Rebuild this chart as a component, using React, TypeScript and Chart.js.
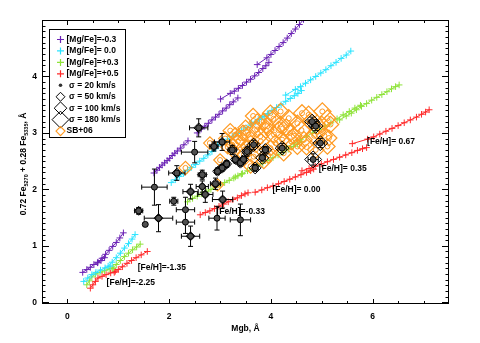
import React, { useEffect, useRef } from 'react';
import { Chart, registerables } from 'chart.js';
Chart.register(...registerables);

// ---------- axis ticks ----------
const X_TICKS = [0, 2, 4, 6];
const Y_TICKS = [0, 1, 2, 3, 4];

// ---------- model grids: [Mgb, Fe-combination] per [Fe/H] line ----------
// [Mg/Fe] = -0.3 (purple)
const P_M225 = [[0.30,0.53],[0.38,0.58],[0.45,0.62],[0.52,0.67],[0.59,0.70],[0.66,0.74],[0.73,0.79]];
const P_M135 = [[0.60,0.71],[0.68,0.78],[0.75,0.85],[0.82,0.92],[0.89,0.99],[0.96,1.06],[1.03,1.14],[1.10,1.23]];
const P_M033 = [[1.70,2.29],[1.76,2.34],[1.81,2.39],[1.86,2.43],[1.91,2.47],[1.96,2.51],[2.01,2.55],[2.06,2.60],[2.11,2.64],[2.16,2.68],[2.22,2.73],[2.29,2.79],[2.37,2.86]];
const P_P000 = [[2.55,3.00],[2.63,3.07],[2.70,3.12],[2.77,3.17],[2.84,3.23],[2.91,3.28],[2.98,3.33],[3.05,3.39],[3.12,3.44],[3.19,3.50],[3.26,3.55],[3.35,3.62]];
const P_P035 = [[3.01,3.60],[3.20,3.70],[3.28,3.74],[3.36,3.79],[3.44,3.84],[3.52,3.90],[3.60,3.95],[3.68,4.01],[3.76,4.07],[3.84,4.14],[3.90,4.19],[3.96,4.25]];
const P_P067 = [[3.73,4.21],[3.92,4.33],[4.00,4.39],[4.08,4.46],[4.16,4.53],[4.24,4.60],[4.32,4.68],[4.40,4.76],[4.48,4.84],[4.56,4.92],[4.64,5.01],[4.72,5.10]];
// [Mg/Fe] = 0.0 (cyan)
const C_M225 = [[0.32,0.37],[0.40,0.43],[0.48,0.49],[0.56,0.53],[0.65,0.57],[0.74,0.61],[0.84,0.64]];
const C_M135 = [[0.80,0.64],[0.88,0.71],[0.96,0.79],[1.04,0.87],[1.12,0.96],[1.20,1.04],[1.27,1.12],[1.33,1.20]];
const C_M033 = [[2.04,2.12],[2.12,2.17],[2.20,2.23],[2.28,2.28],[2.36,2.34],[2.44,2.39],[2.52,2.44],[2.60,2.50],[2.68,2.55],[2.76,2.61],[2.84,2.67],[2.91,2.72]];
const C_P000 = [[2.95,2.78],[3.06,2.84],[3.15,2.89],[3.24,2.94],[3.33,2.99],[3.42,3.04],[3.51,3.09],[3.60,3.14],[3.69,3.19],[3.78,3.24],[3.87,3.29],[3.95,3.34]];
const C_P035 = [[3.62,3.17],[3.75,3.24],[3.84,3.29],[3.93,3.34],[4.02,3.40],[4.11,3.45],[4.20,3.50],[4.29,3.56],[4.38,3.61],[4.46,3.66],[4.53,3.70],[4.60,3.75]];
const C_P067 = [[4.29,3.67],[4.48,3.77],[4.58,3.82],[4.68,3.88],[4.78,3.94],[4.88,4.00],[4.98,4.06],[5.08,4.12],[5.18,4.19],[5.28,4.25],[5.38,4.32],[5.48,4.38],[5.57,4.45]];
// [Mg/Fe] = +0.3 (green)
const G_M225 = [[0.38,0.31],[0.43,0.38],[0.48,0.45],[0.55,0.50],[0.64,0.53],[0.73,0.56],[0.82,0.59],[0.90,0.61]];
const G_M135 = [[0.88,0.60],[0.96,0.67],[1.04,0.74],[1.12,0.81],[1.20,0.87],[1.28,0.93],[1.36,0.98],[1.43,1.03]];
const G_M033 = [[2.36,1.78],[2.46,1.84],[2.55,1.88],[2.64,1.92],[2.73,1.96],[2.82,2.00],[2.91,2.04],[3.00,2.08],[3.09,2.12],[3.18,2.16],[3.27,2.20],[3.35,2.24],[3.42,2.27]];
const G_P000 = [[3.30,2.22],[3.44,2.28],[3.54,2.33],[3.64,2.37],[3.74,2.42],[3.84,2.46],[3.94,2.51],[4.04,2.56],[4.14,2.61],[4.24,2.66],[4.34,2.71],[4.44,2.76],[4.52,2.80],[4.60,2.84]];
const G_P035 = [[4.30,2.75],[4.46,2.82],[4.58,2.88],[4.70,2.94],[4.82,3.00],[4.94,3.06],[5.06,3.12],[5.18,3.18],[5.30,3.25],[5.42,3.32],[5.54,3.38],[5.65,3.44],[5.76,3.49]];
const G_P067 = [[5.35,3.23],[5.48,3.30],[5.58,3.35],[5.68,3.41],[5.78,3.47],[5.88,3.52],[5.98,3.58],[6.08,3.63],[6.18,3.68],[6.28,3.73],[6.37,3.78],[6.45,3.82],[6.52,3.85]];
// [Mg/Fe] = +0.5 (red)
const R_M225 = [[0.45,0.25],[0.50,0.31],[0.55,0.37],[0.60,0.43],[0.68,0.46],[0.76,0.49],[0.85,0.52],[0.94,0.55]];
const R_M135 = [[0.92,0.53],[1.00,0.58],[1.08,0.63],[1.17,0.69],[1.26,0.74],[1.35,0.79],[1.45,0.84],[1.57,0.90]];
const R_M033 = [[2.61,1.55],[2.71,1.59],[2.80,1.62],[2.89,1.66],[2.98,1.70],[3.07,1.74],[3.16,1.78],[3.25,1.82],[3.34,1.85],[3.42,1.89],[3.49,1.92],[3.55,1.94]];
const R_P000 = [[3.69,1.95],[3.82,1.99],[3.93,2.03],[4.04,2.06],[4.15,2.10],[4.26,2.14],[4.37,2.18],[4.48,2.22],[4.59,2.26],[4.70,2.30],[4.78,2.33],[4.84,2.36]];
const R_P035 = [[4.61,2.33],[4.75,2.37],[4.87,2.41],[4.99,2.45],[5.11,2.49],[5.23,2.53],[5.35,2.57],[5.47,2.61],[5.59,2.65],[5.70,2.69],[5.80,2.72],[5.88,2.74]];
const R_P067 = [[5.60,2.81],[5.90,2.89],[6.02,2.93],[6.14,2.98],[6.26,3.03],[6.38,3.08],[6.50,3.13],[6.62,3.18],[6.74,3.23],[6.86,3.28],[6.96,3.33],[7.04,3.37],[7.11,3.41]];

const MGFE_LABELS = ['[Mg/Fe]=-0.3', '[Mg/Fe]= 0.0', '[Mg/Fe]=+0.3', '[Mg/Fe]=+0.5'];
const MODEL_GROUPS = [
  [P_M225, P_M135, P_M033, P_P000, P_P035, P_P067],
  [C_M225, C_M135, C_M033, C_P000, C_P035, C_P067],
  [G_M225, G_M135, G_M033, G_P000, G_P035, G_P067],
  [R_M225, R_M135, R_M033, R_P000, R_P035, R_P067],
];

// ---------- [Fe/H] annotations ----------
const FEH_LABELS = ['[Fe/H]= 0.67', '[Fe/H]= 0.35', '[Fe/H]= 0.00', '[Fe/H]=-0.33', '[Fe/H]=-1.35', '[Fe/H]=-2.25'];
const FEH_X = [5.89, 4.94, 4.03, 2.93, 1.38, 0.77];
const FEH_Y = [2.85, 2.37, 1.99, 1.61, 0.62, 0.34];

// ---------- observed objects (black, with error bars) ----------
const OBJ_X =  [2.58,2.50,2.15,1.71,1.40,1.53,1.79,2.09,2.32,2.32,2.42,2.42,2.65,2.71,2.94,3.05,3.40,2.91,2.65,2.88,3.04,2.95,3.13,3.24,3.30,3.40,3.46,3.53,3.69,3.66,3.83,3.89,4.22,4.81,4.88,4.97,4.83,3.04];
const OBJ_Y =  [3.09,2.66,2.29,2.04,1.62,1.38,1.49,1.79,1.64,1.42,1.17,1.96,2.05,1.91,1.49,1.82,1.46,2.10,2.26,2.76,2.38,2.32,2.45,2.70,2.53,2.47,2.53,2.67,2.38,2.79,2.56,2.70,2.73,3.20,3.12,2.82,2.53,2.84];
const OBJ_EX = [0.18,0.26,0.16,0.25,0.08,0.03,0.28,0.08,0.18,0.18,0.18,0.15,0.12,0.15,0.16,0.20,0.20,0.10,0.08,0.08,0.06,0.06,0.06,0.08,0.06,0.06,0.06,0.08,0.06,0.08,0.06,0.06,0.08,0.08,0.08,0.08,0.10,0.15];
const OBJ_EY = [0.16,0.19,0.13,0.32,0.06,0.03,0.24,0.07,0.22,0.20,0.18,0.13,0.10,0.14,0.21,0.15,0.28,0.10,0.08,0.08,0.06,0.06,0.06,0.08,0.06,0.06,0.06,0.08,0.06,0.08,0.06,0.06,0.08,0.08,0.08,0.08,0.10,0.15];
const OBJ_SIGMA = [60,30,60,25,50,30,50,30,30,30,50,50,40,50,30,50,30,60,60,60,70,60,60,70,60,70,60,80,90,110,110,100,120,140,130,140,180,50];

// ---------- SB+06 sample (orange) ----------
const SB_X = [2.32,2.80,2.95,3.00,3.20,3.30,3.24,3.40,3.50,3.56,3.60,3.60,3.66,3.73,3.73,3.79,3.86,3.86,3.93,3.99,3.99,4.06,4.09,4.19,4.19,4.22,4.25,4.35,4.38,4.52,4.52,4.61,4.65,4.74,4.78,4.88,4.91,5.01,5.11,5.17,5.14,5.11,3.27,3.47,
  3.10,3.15,3.35,3.45,3.55,3.70,3.80,3.95,4.05,4.15,4.30,4.45,4.60,4.70,4.85,5.00,5.05,4.40,3.90,3.65];
const SB_Y = [2.38,2.82,2.08,2.52,3.04,2.97,2.79,2.91,3.09,2.97,2.82,2.41,2.58,3.06,3.20,2.94,3.20,2.50,3.12,3.35,2.73,2.97,2.82,3.38,3.15,2.88,2.64,3.26,3.00,3.17,2.76,3.35,2.88,3.32,3.20,2.70,3.03,3.38,3.26,3.15,2.91,2.76,2.67,2.62,
  2.90,2.75,2.85,3.00,2.75,2.70,2.85,2.60,3.25,3.05,3.10,2.95,3.05,2.75,2.95,3.15,2.95,2.85,3.05,3.30];
const SB_SIGMA = [110,100,90,100,130,120,110,140,150,160,150,120,140,170,150,160,180,140,170,160,150,180,170,170,180,160,150,190,180,170,160,180,170,190,180,170,180,190,180,170,160,150,120,130,
  110,120,130,150,140,160,170,150,180,190,180,170,190,160,180,170,160,180,170,150];

const SIGMA_LEGEND = [20, 50, 100, 180];
const SIGMA_LABELS = ['\u03c3 = 20 km/s', '\u03c3 = 50 km/s', '\u03c3 = 100 km/s', '\u03c3 = 180 km/s'];
const SB_LABEL = 'SB+06';

// ---------- styles ----------
const COLORS = ['#6B22B5', '#2BE4FF', '#8FE33A', '#FF2A2A'];
const ORANGE = '#FF9A22';
const FONT = "'Liberation Sans', Arial, Helvetica, sans-serif";
const TXT = `bold 8.5px ${FONT}`;
const sigmaRadius = (s: number) => 0.63 * Math.sqrt(s);

function drawCross(ctx: CanvasRenderingContext2D, x: number, y: number, r: number) {
  ctx.beginPath();
  ctx.moveTo(x - r, y); ctx.lineTo(x + r, y);
  ctx.moveTo(x, y - r); ctx.lineTo(x, y + r);
  ctx.stroke();
}
function drawDiamond(ctx: CanvasRenderingContext2D, x: number, y: number, r: number) {
  ctx.beginPath();
  ctx.moveTo(x - r, y); ctx.lineTo(x, y - r); ctx.lineTo(x + r, y); ctx.lineTo(x, y + r);
  ctx.closePath();
  ctx.stroke();
}

const decorPlugin = {
  id: 'decor',
  beforeDatasetDraw(chart: any, args: any) {
    const ds = chart.data.datasets[args.index];
    if (ds.label !== 'objDiamonds') return;
    const { ctx, chartArea } = chart;
    const xs = chart.scales.x, ys = chart.scales.y;
    ctx.save();
    ctx.beginPath();
    ctx.rect(chartArea.left, chartArea.top, chartArea.right - chartArea.left, chartArea.bottom - chartArea.top);
    ctx.clip();
    ctx.strokeStyle = '#000';
    ctx.lineWidth = 1;
    const cap = 2.5;
    for (let i = 0; i < OBJ_X.length; i++) {
      const x0 = xs.getPixelForValue(OBJ_X[i] - OBJ_EX[i]);
      const x1 = xs.getPixelForValue(OBJ_X[i] + OBJ_EX[i]);
      const y0 = ys.getPixelForValue(OBJ_Y[i] - OBJ_EY[i]);
      const y1 = ys.getPixelForValue(OBJ_Y[i] + OBJ_EY[i]);
      const cx = xs.getPixelForValue(OBJ_X[i]);
      const cy = ys.getPixelForValue(OBJ_Y[i]);
      ctx.beginPath();
      ctx.moveTo(x0, cy); ctx.lineTo(x1, cy);
      ctx.moveTo(x0, cy - cap); ctx.lineTo(x0, cy + cap);
      ctx.moveTo(x1, cy - cap); ctx.lineTo(x1, cy + cap);
      ctx.moveTo(cx, y0); ctx.lineTo(cx, y1);
      ctx.moveTo(cx - cap, y0); ctx.lineTo(cx + cap, y0);
      ctx.moveTo(cx - cap, y1); ctx.lineTo(cx + cap, y1);
      ctx.stroke();
    }
    ctx.restore();
  },
  afterDatasetsDraw(chart: any) {
    const { ctx } = chart;
    const xs = chart.scales.x, ys = chart.scales.y;
    ctx.save();
    ctx.fillStyle = '#000';
    ctx.font = TXT;
    ctx.textAlign = 'left';
    ctx.textBaseline = 'middle';
    FEH_LABELS.forEach((t, i) => {
      ctx.fillText(t, xs.getPixelForValue(FEH_X[i]), ys.getPixelForValue(FEH_Y[i]));
    });
    ctx.restore();
  },
  afterDraw(chart: any) {
    const { ctx, chartArea } = chart;
    const { left, right, top, bottom } = chartArea;
    const xs = chart.scales.x, ys = chart.scales.y;
    ctx.save();
    ctx.strokeStyle = '#000';
    ctx.lineWidth = 1;
    ctx.strokeRect(left + 0.5, top + 0.5, right - left - 1, bottom - top - 1);
    // ticks on all sides, pointing inward
    ctx.beginPath();
    for (let k = 0; k <= 15; k++) {
      const v = -0.5 + k * 0.5;
      if (v <= xs.min || v >= xs.max) continue;
      const px = Math.round(xs.getPixelForValue(v)) + 0.5;
      const major = Math.abs(v % 2) < 1e-6;
      const len = major ? 5 : 3;
      ctx.moveTo(px, bottom); ctx.lineTo(px, bottom - len);
      ctx.moveTo(px, top); ctx.lineTo(px, top + len);
    }
    for (let k = 0; k <= 50; k++) {
      const v = k / 10;
      if (v <= ys.min || v >= ys.max) continue;
      const py = Math.round(ys.getPixelForValue(v)) + 0.5;
      const major = k % 10 === 0;
      const len = major ? 7 : 3.5;
      ctx.moveTo(left, py); ctx.lineTo(left + len, py);
      ctx.moveTo(right, py); ctx.lineTo(right - len, py);
    }
    ctx.stroke();

    // legend
    const bx = 49.5, by = 29.5, bw = 76, bh = 108;
    ctx.fillStyle = '#fff';
    ctx.fillRect(bx, by, bw, bh);
    ctx.strokeRect(bx, by, bw, bh);
    const mx = 60.5, step = 11.45, y0 = 39.5;
    ctx.font = TXT;
    ctx.textAlign = 'left';
    ctx.textBaseline = 'middle';
    MGFE_LABELS.forEach((t, i) => {
      const yy = y0 + i * step;
      ctx.strokeStyle = COLORS[i];
      ctx.lineWidth = 1.2;
      drawCross(ctx, mx, yy, 3.5);
      ctx.fillStyle = '#000';
      ctx.fillText(t, 66.5, yy);
    });
    SIGMA_LEGEND.forEach((s, i) => {
      const yy = y0 + (4 + i) * step;
      ctx.strokeStyle = '#000';
      ctx.lineWidth = 1;
      if (i === 0) {
        ctx.fillStyle = '#333';
        ctx.beginPath(); ctx.arc(mx, yy, 1.8, 0, Math.PI * 2); ctx.fill();
      } else {
        drawDiamond(ctx, mx, yy, sigmaRadius(s));
      }
      ctx.fillStyle = '#000';
      ctx.fillText(SIGMA_LABELS[i], 69, yy);
    });
    {
      const yy = y0 + 8 * step;
      ctx.strokeStyle = ORANGE;
      ctx.lineWidth = 1.2;
      drawDiamond(ctx, mx, yy, 4.5);
      ctx.fillStyle = '#000';
      ctx.fillText(SB_LABEL, 66.5, yy);
    }

    // axis titles
    ctx.fillStyle = '#000';
    ctx.font = TXT;
    ctx.textAlign = 'center';
    ctx.textBaseline = 'middle';
    ctx.fillText('Mgb, \u00c5', (left + right) / 2, 328.5);

    const segs = [
      { t: '0.72 Fe', sub: false },
      { t: '5270', sub: true },
      { t: ' + 0.28 Fe', sub: false },
      { t: '5335', sub: true },
      { t: ', \u00c5', sub: false },
    ];
    const subFont = `bold 5.5px ${FONT}`;
    let total = 0;
    segs.forEach((s) => { ctx.font = s.sub ? subFont : TXT; total += ctx.measureText(s.t).width; });
    ctx.translate(25.5, (top + bottom) / 2 + 2);
    ctx.rotate(-Math.PI / 2);
    ctx.textAlign = 'left';
    ctx.textBaseline = 'alphabetic';
    let cur = -total / 2;
    segs.forEach((s) => {
      ctx.font = s.sub ? subFont : TXT;
      ctx.fillText(s.t, cur, s.sub ? 2.5 : 0);
      cur += ctx.measureText(s.t).width;
    });
    ctx.restore();
  },
};

export default function App() {
  const ref = useRef<HTMLCanvasElement>(null);
  useEffect(() => {
    const canvas = ref.current;
    if (!canvas) return;
    const datasets: any[] = [];
    MODEL_GROUPS.forEach((group, gi) => {
      group.forEach((line) => {
        datasets.push({
          label: 'model',
          data: line.map(([x, y]) => ({ x, y })),
          showLine: true,
          borderColor: COLORS[gi],
          backgroundColor: COLORS[gi],
          borderWidth: 1,
          pointStyle: 'cross',
          pointRadius: 3.3,
          pointBorderWidth: 1,
          pointBorderColor: COLORS[gi],
          clip: 0,
          order: 10,
        });
      });
    });
    datasets.push({
      label: 'sbDiamonds',
      data: SB_X.map((x, i) => ({ x, y: SB_Y[i] })),
      showLine: false,
      pointStyle: 'rectRot',
      pointRadius: SB_SIGMA.map(sigmaRadius),
      pointBorderColor: ORANGE,
      pointBackgroundColor: 'rgba(0,0,0,0)',
      pointBorderWidth: 1.2,
      order: 6,
    });
    datasets.push({
      label: 'sbInner',
      data: SB_X.map((x, i) => ({ x, y: SB_Y[i] })),
      showLine: false,
      pointStyle: 'circle',
      pointRadius: 2.5,
      pointBorderColor: ORANGE,
      pointBackgroundColor: 'rgba(0,0,0,0)',
      pointBorderWidth: 1,
      order: 5,
    });
    datasets.push({
      label: 'objDiamonds',
      data: OBJ_X.map((x, i) => ({ x, y: OBJ_Y[i] })),
      showLine: false,
      pointStyle: 'rectRot',
      pointRadius: OBJ_SIGMA.map((s) => (s >= 40 ? sigmaRadius(s) : 0)),
      pointBorderColor: '#000',
      pointBackgroundColor: 'rgba(0,0,0,0)',
      pointBorderWidth: 1,
      order: 2,
    });
    datasets.push({
      label: 'objCircles',
      data: OBJ_X.map((x, i) => ({ x, y: OBJ_Y[i] })),
      showLine: false,
      pointStyle: 'circle',
      pointRadius: 3,
      pointBorderColor: '#000',
      pointBackgroundColor: '#505050',
      pointBorderWidth: 1,
      order: 1,
    });

    const tickFont = { family: FONT, size: 8.5, weight: 'bold' as const };
    const chart = new Chart(canvas, {
      type: 'scatter',
      data: { datasets },
      options: {
        responsive: false,
        maintainAspectRatio: false,
        animation: false,
        events: [],
        layout: { padding: { top: 20, right: 31, left: 0, bottom: 0 } },
        plugins: { legend: { display: false }, tooltip: { enabled: false }, title: { display: false } },
        scales: {
          x: {
            type: 'linear',
            min: -0.5,
            max: 7.5,
            afterBuildTicks: (s: any) => { s.ticks = X_TICKS.map((v) => ({ value: v })); },
            afterFit: (s: any) => { s.height = 39; },
            grid: { display: false, drawTicks: false },
            border: { display: false },
            ticks: { font: tickFont, color: '#000', padding: 8, maxRotation: 0, autoSkip: false },
          },
          y: {
            type: 'linear',
            min: -0.03,
            max: 5.0,
            afterBuildTicks: (s: any) => { s.ticks = Y_TICKS.map((v) => ({ value: v })); },
            afterFit: (s: any) => { s.width = 42; },
            grid: { display: false, drawTicks: false },
            border: { display: false },
            ticks: { font: tickFont, color: '#000', padding: 5, autoSkip: false },
          },
        },
      },
      plugins: [decorPlugin],
    } as any);
    return () => chart.destroy();
  }, []);
  return (
    <div style={{ position: 'fixed', left: 0, top: 0, width: 480, height: 343, background: '#fff' }}>
      <canvas ref={ref} width={480} height={343} style={{ display: 'block', width: 480, height: 343 }} />
    </div>
  );
}
